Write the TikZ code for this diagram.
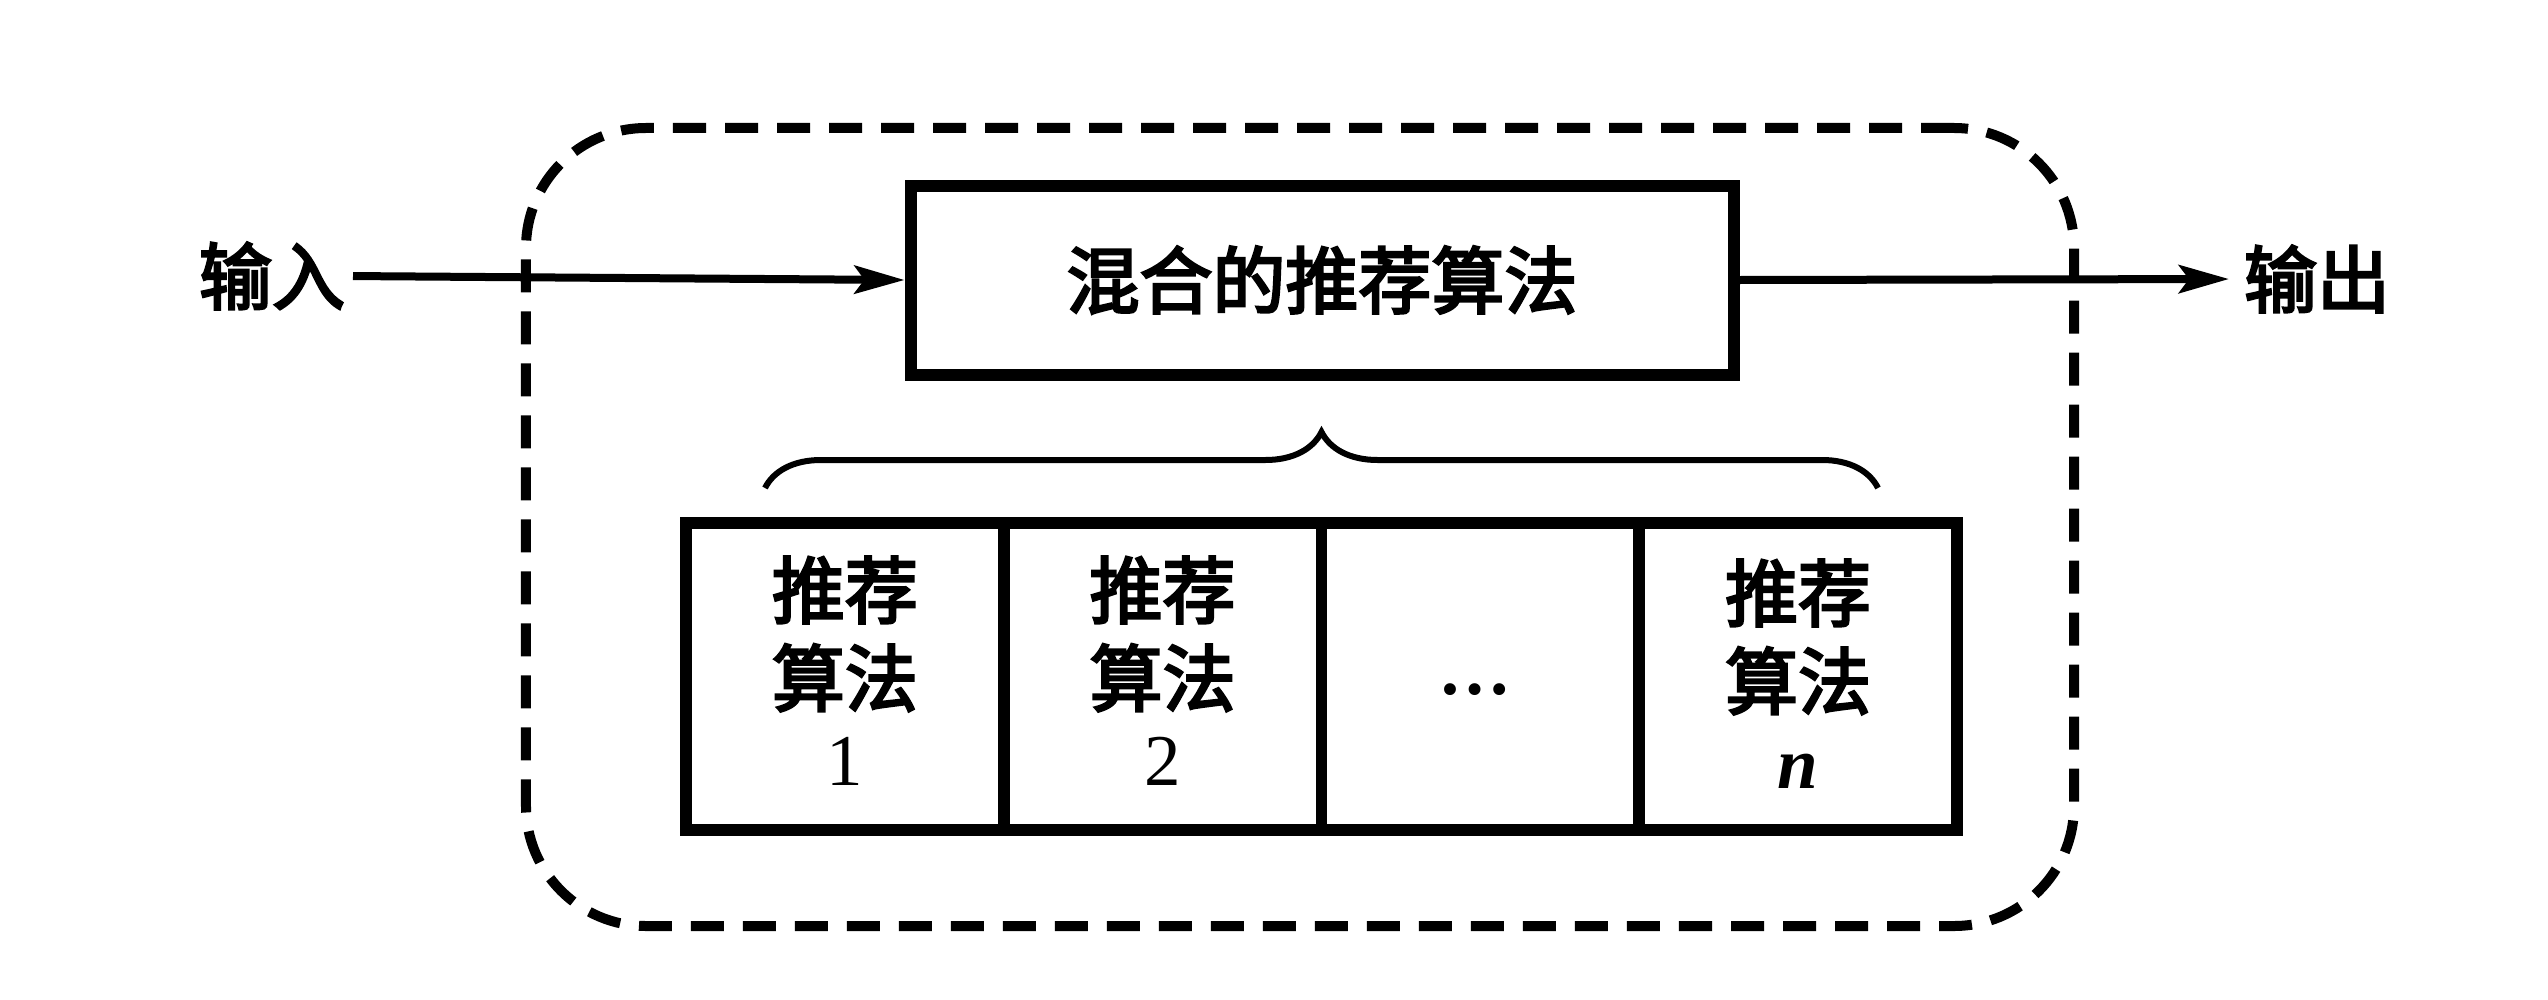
\documentclass[tikz,border=0pt]{standalone}
\usepackage{fontspec}
\newfontfamily\cjk{Noto Sans CJK SC}[BoldFont=Noto Sans CJK SC, BoldFeatures={FakeBold=3.5}]
\newfontfamily\tms{Liberation Serif}
\usetikzlibrary{arrows.meta,decorations.pathreplacing}
\begin{document}
\begin{tikzpicture}[x=0.2pt,y=-0.2pt,
  cjkfont/.style={font=\cjk\bfseries\fontsize{14.6pt}{17.6pt}\selectfont},
  lbl/.style={cjkfont, inner sep=0pt},
  mainbox/.style={draw, line width=2.4pt, minimum width=164.6pt, minimum height=37.8pt, cjkfont, inner sep=0pt},
  cell/.style={draw, line width=2.3pt, minimum width=63.55pt, minimum height=61.4pt, inner sep=0pt},
  celltext/.style={cjkfont, inner sep=0pt, align=center},
  arr/.style={line width=1.6pt, -{Stealth[length=10pt,width=5.6pt,inset=2pt]}},
  dashbox/.style={draw, line width=2pt, dash pattern=on 6.6pt off 3.8pt, rounded corners=24pt, minimum width=309.6pt, minimum height=159.6pt, inner sep=0pt},
  bracestyle/.style={line width=1.2pt, decorate, decoration={brace, amplitude=11.2pt}}
]
\useasboundingbox (0,0) rectangle (2548,1000);
\node[dashbox] (grp) at (1300,527) {};
\node[lbl] (in) at (272,276) {输入};
\node[lbl] (out) at (2317,279) {输出};
\node[mainbox] (mix) at (1322,280) {混合的推荐算法};
\node[cell] (c1) at (844.9,676.5) {};
\node[cell] (c2) at (1162.6,676.5) {};
\node[cell] (c3) at (1480.4,676.5) {};
\node[cell] (c4) at (1798.1,676.5) {};
\node[celltext] (t1) at (844.9,671) {推荐\\算法\\[-1.6pt]\tms\mdseries 1};
\node[celltext] (t2) at (1162.6,671) {推荐\\算法\\[-1.6pt]\tms\mdseries 2};
\node[celltext] (t3) at (1475,690) {\tms\bfseries …};
\node[celltext] (t4) at (1798.1,674) {推荐\\算法\\[-1.6pt]\tms\bfseries\itshape n};
\coordinate (bl) at (765,488);
\coordinate (br) at (1878,488);
\draw[bracestyle] (bl) -- (br);
\draw[arr, shorten <=1.4pt] (in.east) -- (mix.west);
\draw[arr, shorten >=2.8pt] (mix.east) -- (out.west);
\end{tikzpicture}
\end{document}
